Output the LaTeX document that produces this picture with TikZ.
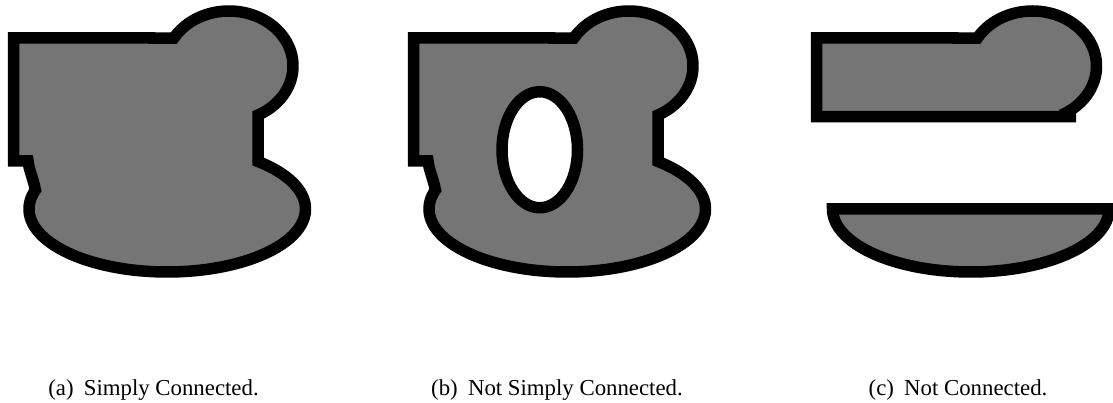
\documentclass[tikz,border=0pt]{standalone}
\usepackage{fontspec}
\setmainfont{Liberation Serif}
\definecolor{shapegray}{RGB}{117,117,117}
\begin{document}
\begin{tikzpicture}[x=1pt,y=-1pt,
  shapestyle/.style={draw=black, fill=shapegray, line width=11.5pt, line join=miter},
  captext/.style={anchor=base, inner sep=0pt, font=\fontsize{22.8}{27}\selectfont}]
\useasboundingbox (0,0) rectangle (1113,403);

% (a) simply connected
\draw[shapestyle] (13.5,38)
  -- plot[domain=-149.4:63, samples=80] ({229+64*cos(\x)},{66+55*sin(\x)})
  -- plot[domain=-48.9:197.55, samples=150] ({167.25+138.25*cos(\x)},{209+63*sin(\x)})
  .. controls (33,178) and (29,170) .. (28,161) -- (13.5,161) -- cycle;

% (b) not simply connected
\begin{scope}[shift={(400,0)}]
\draw[shapestyle, even odd rule] (13.5,38)
  -- plot[domain=-149.4:63, samples=80] ({229+64*cos(\x)},{66+55*sin(\x)})
  -- plot[domain=-48.9:197.55, samples=150] ({167.25+138.25*cos(\x)},{209+63*sin(\x)})
  .. controls (33,178) and (29,170) .. (28,161) -- (13.5,161) -- cycle
  (139.75,149.75) ellipse [x radius=37.75pt, y radius=58pt];
\end{scope}

% (c) not connected
\begin{scope}[shift={(803.5,0)}]
\draw[shapestyle] (272.5,116.7) -- (13,116.7) -- (13,38)
  -- plot[domain=-149.4:63, samples=80] ({229+64*cos(\x)},{66+55*sin(\x)});
\draw[shapestyle]
  plot[domain=0:180, samples=120] ({167.25+138.25*cos(\x)},{209+63*sin(\x)}) -- cycle;
\end{scope}

\node[captext] (capa) at (153.5,395) {(a)\hspace{0.45em}Simply Connected.};
\node[captext] (capb) at (557,395) {(b)\hspace{0.45em}Not Simply Connected.};
\node[captext] (capc) at (958,395) {(c)\hspace{0.45em}Not Connected.};
\end{tikzpicture}
\end{document}
